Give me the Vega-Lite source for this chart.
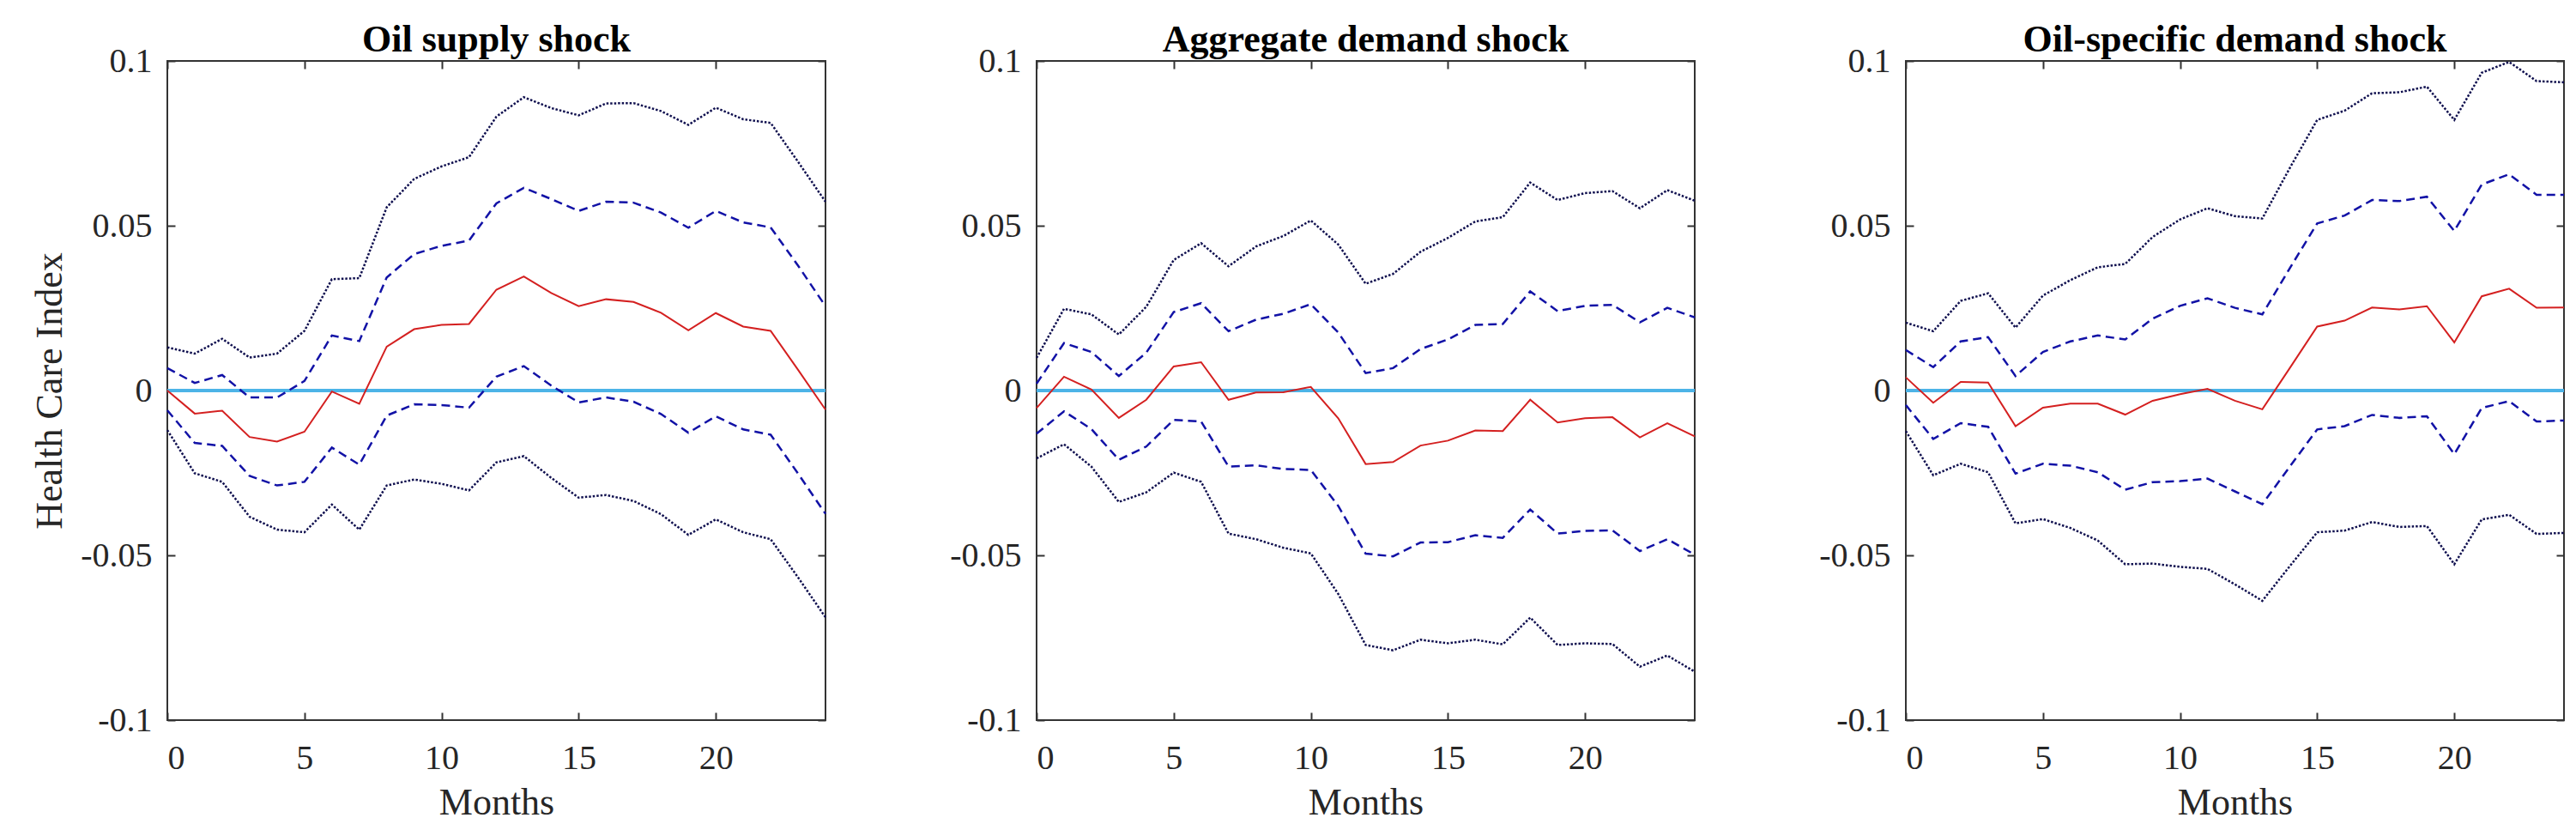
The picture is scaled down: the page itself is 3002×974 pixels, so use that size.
{
  "$schema": "https://vega.github.io/schema/vega-lite/v6.json",
  "padding": {"left": 35, "top": 23, "right": 0, "bottom": 0},
  "background": "white",
  "spacing": 129,
  "config": {
    "view": {"stroke": "#333333", "strokeWidth": 2},
    "font": "Liberation Serif",
    "axis": {"grid": false, "domain": false, "tickColor": "#333333", "tickWidth": 2, "tickSize": 9,
      "labelFont": "Liberation Serif", "labelFontSize": 40, "labelColor": "#262626",
      "titleFont": "Liberation Serif", "titleFontSize": 44, "titleFontWeight": "normal", "titleColor": "#262626"},
    "title": {"font": "Liberation Serif", "fontSize": 44, "fontWeight": "bold", "color": "#000000", "offset": -17.5, "anchor": "middle"}
  },
  "data": {"values": [
    {"shock": "Oil supply shock", "month": 0, "lo2": -0.0120, "lo1": -0.0060, "med": 0.0000, "hi1": 0.0068, "hi2": 0.0131},
    {"shock": "Oil supply shock", "month": 1, "lo2": -0.0251, "lo1": -0.0159, "med": -0.0070, "hi1": 0.0023, "hi2": 0.0112},
    {"shock": "Oil supply shock", "month": 2, "lo2": -0.0277, "lo1": -0.0168, "med": -0.0061, "hi1": 0.0047, "hi2": 0.0157},
    {"shock": "Oil supply shock", "month": 3, "lo2": -0.0383, "lo1": -0.0259, "med": -0.0141, "hi1": -0.0021, "hi2": 0.0100},
    {"shock": "Oil supply shock", "month": 4, "lo2": -0.0422, "lo1": -0.0288, "med": -0.0155, "hi1": -0.0021, "hi2": 0.0112},
    {"shock": "Oil supply shock", "month": 5, "lo2": -0.0430, "lo1": -0.0277, "med": -0.0125, "hi1": 0.0029, "hi2": 0.0181},
    {"shock": "Oil supply shock", "month": 6, "lo2": -0.0346, "lo1": -0.0173, "med": -0.0003, "hi1": 0.0167, "hi2": 0.0338},
    {"shock": "Oil supply shock", "month": 7, "lo2": -0.0422, "lo1": -0.0225, "med": -0.0040, "hi1": 0.0150, "hi2": 0.0341},
    {"shock": "Oil supply shock", "month": 8, "lo2": -0.0288, "lo1": -0.0076, "med": 0.0133, "hi1": 0.0343, "hi2": 0.0556},
    {"shock": "Oil supply shock", "month": 9, "lo2": -0.0270, "lo1": -0.0042, "med": 0.0186, "hi1": 0.0414, "hi2": 0.0642},
    {"shock": "Oil supply shock", "month": 10, "lo2": -0.0283, "lo1": -0.0044, "med": 0.0199, "hi1": 0.0439, "hi2": 0.0680},
    {"shock": "Oil supply shock", "month": 11, "lo2": -0.0303, "lo1": -0.0052, "med": 0.0202, "hi1": 0.0455, "hi2": 0.0708},
    {"shock": "Oil supply shock", "month": 12, "lo2": -0.0218, "lo1": 0.0042, "med": 0.0306, "hi1": 0.0568, "hi2": 0.0831},
    {"shock": "Oil supply shock", "month": 13, "lo2": -0.0199, "lo1": 0.0074, "med": 0.0346, "hi1": 0.0615, "hi2": 0.0890},
    {"shock": "Oil supply shock", "month": 14, "lo2": -0.0265, "lo1": 0.0015, "med": 0.0296, "hi1": 0.0581, "hi2": 0.0857},
    {"shock": "Oil supply shock", "month": 15, "lo2": -0.0325, "lo1": -0.0036, "med": 0.0256, "hi1": 0.0545, "hi2": 0.0835},
    {"shock": "Oil supply shock", "month": 16, "lo2": -0.0317, "lo1": -0.0021, "med": 0.0277, "hi1": 0.0573, "hi2": 0.0871},
    {"shock": "Oil supply shock", "month": 17, "lo2": -0.0335, "lo1": -0.0034, "med": 0.0269, "hi1": 0.0570, "hi2": 0.0872},
    {"shock": "Oil supply shock", "month": 18, "lo2": -0.0375, "lo1": -0.0071, "med": 0.0236, "hi1": 0.0540, "hi2": 0.0848},
    {"shock": "Oil supply shock", "month": 19, "lo2": -0.0438, "lo1": -0.0128, "med": 0.0183, "hi1": 0.0494, "hi2": 0.0806},
    {"shock": "Oil supply shock", "month": 20, "lo2": -0.0391, "lo1": -0.0078, "med": 0.0235, "hi1": 0.0545, "hi2": 0.0858},
    {"shock": "Oil supply shock", "month": 21, "lo2": -0.0430, "lo1": -0.0118, "med": 0.0194, "hi1": 0.0510, "hi2": 0.0823},
    {"shock": "Oil supply shock", "month": 22, "lo2": -0.0451, "lo1": -0.0134, "med": 0.0181, "hi1": 0.0495, "hi2": 0.0812},
    {"shock": "Oil supply shock", "month": 23, "lo2": -0.0567, "lo1": -0.0252, "med": 0.0063, "hi1": 0.0379, "hi2": 0.0694},
    {"shock": "Oil supply shock", "month": 24, "lo2": -0.0688, "lo1": -0.0374, "med": -0.0058, "hi1": 0.0256, "hi2": 0.0573},
    {"shock": "Aggregate demand shock", "month": 0, "lo2": -0.0206, "lo1": -0.0131, "med": -0.0053, "hi1": 0.0021, "hi2": 0.0099},
    {"shock": "Aggregate demand shock", "month": 1, "lo2": -0.0163, "lo1": -0.0063, "med": 0.0042, "hi1": 0.0144, "hi2": 0.0248},
    {"shock": "Aggregate demand shock", "month": 2, "lo2": -0.0231, "lo1": -0.0117, "med": 0.0003, "hi1": 0.0117, "hi2": 0.0231},
    {"shock": "Aggregate demand shock", "month": 3, "lo2": -0.0338, "lo1": -0.0210, "med": -0.0083, "hi1": 0.0044, "hi2": 0.0170},
    {"shock": "Aggregate demand shock", "month": 4, "lo2": -0.0309, "lo1": -0.0170, "med": -0.0028, "hi1": 0.0115, "hi2": 0.0254},
    {"shock": "Aggregate demand shock", "month": 5, "lo2": -0.0249, "lo1": -0.0089, "med": 0.0073, "hi1": 0.0238, "hi2": 0.0396},
    {"shock": "Aggregate demand shock", "month": 6, "lo2": -0.0277, "lo1": -0.0094, "med": 0.0086, "hi1": 0.0265, "hi2": 0.0447},
    {"shock": "Aggregate demand shock", "month": 7, "lo2": -0.0434, "lo1": -0.0231, "med": -0.0028, "hi1": 0.0180, "hi2": 0.0377},
    {"shock": "Aggregate demand shock", "month": 8, "lo2": -0.0451, "lo1": -0.0227, "med": -0.0006, "hi1": 0.0215, "hi2": 0.0437},
    {"shock": "Aggregate demand shock", "month": 9, "lo2": -0.0477, "lo1": -0.0238, "med": -0.0005, "hi1": 0.0233, "hi2": 0.0469},
    {"shock": "Aggregate demand shock", "month": 10, "lo2": -0.0494, "lo1": -0.0241, "med": 0.0011, "hi1": 0.0262, "hi2": 0.0516},
    {"shock": "Aggregate demand shock", "month": 11, "lo2": -0.0617, "lo1": -0.0350, "med": -0.0084, "hi1": 0.0176, "hi2": 0.0443},
    {"shock": "Aggregate demand shock", "month": 12, "lo2": -0.0772, "lo1": -0.0495, "med": -0.0223, "hi1": 0.0053, "hi2": 0.0324},
    {"shock": "Aggregate demand shock", "month": 13, "lo2": -0.0788, "lo1": -0.0503, "med": -0.0217, "hi1": 0.0068, "hi2": 0.0354},
    {"shock": "Aggregate demand shock", "month": 14, "lo2": -0.0756, "lo1": -0.0461, "med": -0.0167, "hi1": 0.0126, "hi2": 0.0421},
    {"shock": "Aggregate demand shock", "month": 15, "lo2": -0.0767, "lo1": -0.0460, "med": -0.0152, "hi1": 0.0155, "hi2": 0.0463},
    {"shock": "Aggregate demand shock", "month": 16, "lo2": -0.0756, "lo1": -0.0439, "med": -0.0121, "hi1": 0.0199, "hi2": 0.0513},
    {"shock": "Aggregate demand shock", "month": 17, "lo2": -0.0770, "lo1": -0.0447, "med": -0.0123, "hi1": 0.0202, "hi2": 0.0526},
    {"shock": "Aggregate demand shock", "month": 18, "lo2": -0.0689, "lo1": -0.0361, "med": -0.0028, "hi1": 0.0301, "hi2": 0.0631},
    {"shock": "Aggregate demand shock", "month": 19, "lo2": -0.0772, "lo1": -0.0434, "med": -0.0097, "hi1": 0.0241, "hi2": 0.0578},
    {"shock": "Aggregate demand shock", "month": 20, "lo2": -0.0767, "lo1": -0.0426, "med": -0.0084, "hi1": 0.0257, "hi2": 0.0599},
    {"shock": "Aggregate demand shock", "month": 21, "lo2": -0.0769, "lo1": -0.0424, "med": -0.0081, "hi1": 0.0260, "hi2": 0.0605},
    {"shock": "Aggregate demand shock", "month": 22, "lo2": -0.0838, "lo1": -0.0487, "med": -0.0142, "hi1": 0.0207, "hi2": 0.0553},
    {"shock": "Aggregate demand shock", "month": 23, "lo2": -0.0804, "lo1": -0.0451, "med": -0.0099, "hi1": 0.0251, "hi2": 0.0608},
    {"shock": "Aggregate demand shock", "month": 24, "lo2": -0.0853, "lo1": -0.0498, "med": -0.0139, "hi1": 0.0222, "hi2": 0.0576},
    {"shock": "Oil-specific demand shock", "month": 0, "lo2": -0.0123, "lo1": -0.0044, "med": 0.0040, "hi1": 0.0123, "hi2": 0.0206},
    {"shock": "Oil-specific demand shock", "month": 1, "lo2": -0.0257, "lo1": -0.0147, "med": -0.0037, "hi1": 0.0071, "hi2": 0.0180},
    {"shock": "Oil-specific demand shock", "month": 2, "lo2": -0.0222, "lo1": -0.0099, "med": 0.0026, "hi1": 0.0149, "hi2": 0.0272},
    {"shock": "Oil-specific demand shock", "month": 3, "lo2": -0.0248, "lo1": -0.0110, "med": 0.0024, "hi1": 0.0162, "hi2": 0.0295},
    {"shock": "Oil-specific demand shock", "month": 4, "lo2": -0.0403, "lo1": -0.0252, "med": -0.0108, "hi1": 0.0044, "hi2": 0.0191},
    {"shock": "Oil-specific demand shock", "month": 5, "lo2": -0.0390, "lo1": -0.0222, "med": -0.0052, "hi1": 0.0117, "hi2": 0.0288},
    {"shock": "Oil-specific demand shock", "month": 6, "lo2": -0.0417, "lo1": -0.0228, "med": -0.0040, "hi1": 0.0149, "hi2": 0.0335},
    {"shock": "Oil-specific demand shock", "month": 7, "lo2": -0.0455, "lo1": -0.0248, "med": -0.0040, "hi1": 0.0167, "hi2": 0.0374},
    {"shock": "Oil-specific demand shock", "month": 8, "lo2": -0.0527, "lo1": -0.0301, "med": -0.0073, "hi1": 0.0155, "hi2": 0.0384},
    {"shock": "Oil-specific demand shock", "month": 9, "lo2": -0.0525, "lo1": -0.0278, "med": -0.0031, "hi1": 0.0218, "hi2": 0.0466},
    {"shock": "Oil-specific demand shock", "month": 10, "lo2": -0.0535, "lo1": -0.0275, "med": -0.0011, "hi1": 0.0257, "hi2": 0.0519},
    {"shock": "Oil-specific demand shock", "month": 11, "lo2": -0.0541, "lo1": -0.0267, "med": 0.0005, "hi1": 0.0280, "hi2": 0.0553},
    {"shock": "Oil-specific demand shock", "month": 12, "lo2": -0.0588, "lo1": -0.0306, "med": -0.0031, "hi1": 0.0251, "hi2": 0.0529},
    {"shock": "Oil-specific demand shock", "month": 13, "lo2": -0.0638, "lo1": -0.0345, "med": -0.0057, "hi1": 0.0231, "hi2": 0.0522},
    {"shock": "Oil-specific demand shock", "month": 14, "lo2": -0.0533, "lo1": -0.0231, "med": 0.0068, "hi1": 0.0371, "hi2": 0.0675},
    {"shock": "Oil-specific demand shock", "month": 15, "lo2": -0.0430, "lo1": -0.0118, "med": 0.0194, "hi1": 0.0507, "hi2": 0.0821},
    {"shock": "Oil-specific demand shock", "month": 16, "lo2": -0.0425, "lo1": -0.0108, "med": 0.0212, "hi1": 0.0531, "hi2": 0.0849},
    {"shock": "Oil-specific demand shock", "month": 17, "lo2": -0.0399, "lo1": -0.0074, "med": 0.0252, "hi1": 0.0578, "hi2": 0.0902},
    {"shock": "Oil-specific demand shock", "month": 18, "lo2": -0.0414, "lo1": -0.0083, "med": 0.0246, "hi1": 0.0575, "hi2": 0.0905},
    {"shock": "Oil-specific demand shock", "month": 19, "lo2": -0.0411, "lo1": -0.0078, "med": 0.0256, "hi1": 0.0588, "hi2": 0.0922},
    {"shock": "Oil-specific demand shock", "month": 20, "lo2": -0.0527, "lo1": -0.0193, "med": 0.0146, "hi1": 0.0484, "hi2": 0.0821},
    {"shock": "Oil-specific demand shock", "month": 21, "lo2": -0.0391, "lo1": -0.0053, "med": 0.0286, "hi1": 0.0625, "hi2": 0.0964},
    {"shock": "Oil-specific demand shock", "month": 22, "lo2": -0.0377, "lo1": -0.0032, "med": 0.0309, "hi1": 0.0656, "hi2": 0.0997},
    {"shock": "Oil-specific demand shock", "month": 23, "lo2": -0.0435, "lo1": -0.0094, "med": 0.0251, "hi1": 0.0594, "hi2": 0.0939},
    {"shock": "Oil-specific demand shock", "month": 24, "lo2": -0.0432, "lo1": -0.0091, "med": 0.0252, "hi1": 0.0594, "hi2": 0.0935}
  ]},
  "hconcat": [
    {
      "width": 767, "height": 768,
      "title": "Oil supply shock",
      "transform": [{"filter": "datum.shock === 'Oil supply shock'"}, {"fold": ["lo2", "lo1", "med", "hi1", "hi2"], "as": ["series", "value"]}],
      "layer": [
        {"mark": {"type": "rule", "color": "#4db3e6", "strokeWidth": 2.5},
         "encoding": {"y": {"datum": 0, "type": "quantitative", "scale": {"domain": [-0.1, 0.1], "nice": false, "zero": false}, "axis": null}}},
        {"transform": [{"filter": "datum.series === 'lo2' || datum.series === 'hi2'"}],
         "mark": {"type": "line", "color": "#10104f", "strokeWidth": 2.5, "strokeDash": [2.5, 2]},
         "encoding": {
           "x": {"field": "month", "type": "quantitative", "scale": {"domain": [0, 24], "nice": false, "zero": false}, "axis": {"orient": "bottom", "ticks": false, "values": [0, 5, 10, 15, 20], "labelPadding": 24, "title": "Months", "titlePadding": 10}},
           "y": {"field": "value", "type": "quantitative", "scale": {"domain": [-0.1, 0.1], "nice": false, "zero": false}, "axis": {"orient": "left", "ticks": false, "values": [-0.1, -0.05, 0, 0.05, 0.1], "labelExpr": "'' + datum.value", "labelPadding": 18, "minExtent": 110, "maxExtent": 110, "title": "Health Care Index", "titlePadding": 5}},
           "detail": {"field": "series"}}},
        {"transform": [{"filter": "datum.series === 'lo1' || datum.series === 'hi1'"}],
         "mark": {"type": "line", "color": "#1212a6", "strokeWidth": 2.5, "strokeDash": [10, 6]},
         "encoding": {
           "x": {"field": "month", "type": "quantitative", "axis": {"orient": "bottom", "labels": false, "title": null, "offset": -9, "values": [0, 5, 10, 15, 20]}},
           "y": {"field": "value", "type": "quantitative", "axis": {"orient": "left", "labels": false, "title": null, "offset": -9, "values": [-0.1, -0.05, 0, 0.05, 0.1]}},
           "detail": {"field": "series"}}},
        {"transform": [{"filter": "datum.series === 'med'"}],
         "mark": {"type": "line", "color": "#d42020", "strokeWidth": 2},
         "encoding": {
           "x": {"field": "month", "type": "quantitative", "axis": null},
           "y": {"field": "value", "type": "quantitative", "axis": null}}},
        {"transform": [{"filter": "datum.series === 'med'"}],
         "mark": {"type": "line", "opacity": 0},
         "encoding": {
           "x": {"field": "month", "type": "quantitative", "axis": {"orient": "top", "labels": false, "title": null, "offset": -9, "values": [0, 5, 10, 15, 20]}},
           "y": {"field": "value", "type": "quantitative", "axis": {"orient": "right", "labels": false, "title": null, "offset": -9, "values": [-0.1, -0.05, 0, 0.05, 0.1]}}}}
      ],
      "resolve": {"axis": {"x": "independent", "y": "independent"}}
    },
    {
      "width": 767, "height": 768,
      "title": "Aggregate demand shock",
      "transform": [{"filter": "datum.shock === 'Aggregate demand shock'"}, {"fold": ["lo2", "lo1", "med", "hi1", "hi2"], "as": ["series", "value"]}],
      "layer": [
        {"mark": {"type": "rule", "color": "#4db3e6", "strokeWidth": 2.5},
         "encoding": {"y": {"datum": 0, "type": "quantitative", "scale": {"domain": [-0.1, 0.1], "nice": false, "zero": false}, "axis": null}}},
        {"transform": [{"filter": "datum.series === 'lo2' || datum.series === 'hi2'"}],
         "mark": {"type": "line", "color": "#10104f", "strokeWidth": 2.5, "strokeDash": [2.5, 2]},
         "encoding": {
           "x": {"field": "month", "type": "quantitative", "scale": {"domain": [0, 24], "nice": false, "zero": false}, "axis": {"orient": "bottom", "ticks": false, "values": [0, 5, 10, 15, 20], "labelPadding": 24, "title": "Months", "titlePadding": 10}},
           "y": {"field": "value", "type": "quantitative", "scale": {"domain": [-0.1, 0.1], "nice": false, "zero": false}, "axis": {"orient": "left", "ticks": false, "values": [-0.1, -0.05, 0, 0.05, 0.1], "labelExpr": "'' + datum.value", "labelPadding": 18, "minExtent": 110, "maxExtent": 110, "title": null}},
           "detail": {"field": "series"}}},
        {"transform": [{"filter": "datum.series === 'lo1' || datum.series === 'hi1'"}],
         "mark": {"type": "line", "color": "#1212a6", "strokeWidth": 2.5, "strokeDash": [10, 6]},
         "encoding": {
           "x": {"field": "month", "type": "quantitative", "axis": {"orient": "bottom", "labels": false, "title": null, "offset": -9, "values": [0, 5, 10, 15, 20]}},
           "y": {"field": "value", "type": "quantitative", "axis": {"orient": "left", "labels": false, "title": null, "offset": -9, "values": [-0.1, -0.05, 0, 0.05, 0.1]}},
           "detail": {"field": "series"}}},
        {"transform": [{"filter": "datum.series === 'med'"}],
         "mark": {"type": "line", "color": "#d42020", "strokeWidth": 2},
         "encoding": {
           "x": {"field": "month", "type": "quantitative", "axis": null},
           "y": {"field": "value", "type": "quantitative", "axis": null}}},
        {"transform": [{"filter": "datum.series === 'med'"}],
         "mark": {"type": "line", "opacity": 0},
         "encoding": {
           "x": {"field": "month", "type": "quantitative", "axis": {"orient": "top", "labels": false, "title": null, "offset": -9, "values": [0, 5, 10, 15, 20]}},
           "y": {"field": "value", "type": "quantitative", "axis": {"orient": "right", "labels": false, "title": null, "offset": -9, "values": [-0.1, -0.05, 0, 0.05, 0.1]}}}}
      ],
      "resolve": {"axis": {"x": "independent", "y": "independent"}}
    },
    {
      "width": 767, "height": 768,
      "title": "Oil-specific demand shock",
      "transform": [{"filter": "datum.shock === 'Oil-specific demand shock'"}, {"fold": ["lo2", "lo1", "med", "hi1", "hi2"], "as": ["series", "value"]}],
      "layer": [
        {"mark": {"type": "rule", "color": "#4db3e6", "strokeWidth": 2.5},
         "encoding": {"y": {"datum": 0, "type": "quantitative", "scale": {"domain": [-0.1, 0.1], "nice": false, "zero": false}, "axis": null}}},
        {"transform": [{"filter": "datum.series === 'lo2' || datum.series === 'hi2'"}],
         "mark": {"type": "line", "color": "#10104f", "strokeWidth": 2.5, "strokeDash": [2.5, 2]},
         "encoding": {
           "x": {"field": "month", "type": "quantitative", "scale": {"domain": [0, 24], "nice": false, "zero": false}, "axis": {"orient": "bottom", "ticks": false, "values": [0, 5, 10, 15, 20], "labelPadding": 24, "title": "Months", "titlePadding": 10}},
           "y": {"field": "value", "type": "quantitative", "scale": {"domain": [-0.1, 0.1], "nice": false, "zero": false}, "axis": {"orient": "left", "ticks": false, "values": [-0.1, -0.05, 0, 0.05, 0.1], "labelExpr": "'' + datum.value", "labelPadding": 18, "minExtent": 110, "maxExtent": 110, "title": null}},
           "detail": {"field": "series"}}},
        {"transform": [{"filter": "datum.series === 'lo1' || datum.series === 'hi1'"}],
         "mark": {"type": "line", "color": "#1212a6", "strokeWidth": 2.5, "strokeDash": [10, 6]},
         "encoding": {
           "x": {"field": "month", "type": "quantitative", "axis": {"orient": "bottom", "labels": false, "title": null, "offset": -9, "values": [0, 5, 10, 15, 20]}},
           "y": {"field": "value", "type": "quantitative", "axis": {"orient": "left", "labels": false, "title": null, "offset": -9, "values": [-0.1, -0.05, 0, 0.05, 0.1]}},
           "detail": {"field": "series"}}},
        {"transform": [{"filter": "datum.series === 'med'"}],
         "mark": {"type": "line", "color": "#d42020", "strokeWidth": 2},
         "encoding": {
           "x": {"field": "month", "type": "quantitative", "axis": null},
           "y": {"field": "value", "type": "quantitative", "axis": null}}},
        {"transform": [{"filter": "datum.series === 'med'"}],
         "mark": {"type": "line", "opacity": 0},
         "encoding": {
           "x": {"field": "month", "type": "quantitative", "axis": {"orient": "top", "labels": false, "title": null, "offset": -9, "values": [0, 5, 10, 15, 20]}},
           "y": {"field": "value", "type": "quantitative", "axis": {"orient": "right", "labels": false, "title": null, "offset": -9, "values": [-0.1, -0.05, 0, 0.05, 0.1]}}}}
      ],
      "resolve": {"axis": {"x": "independent", "y": "independent"}}
    }
  ]
}
